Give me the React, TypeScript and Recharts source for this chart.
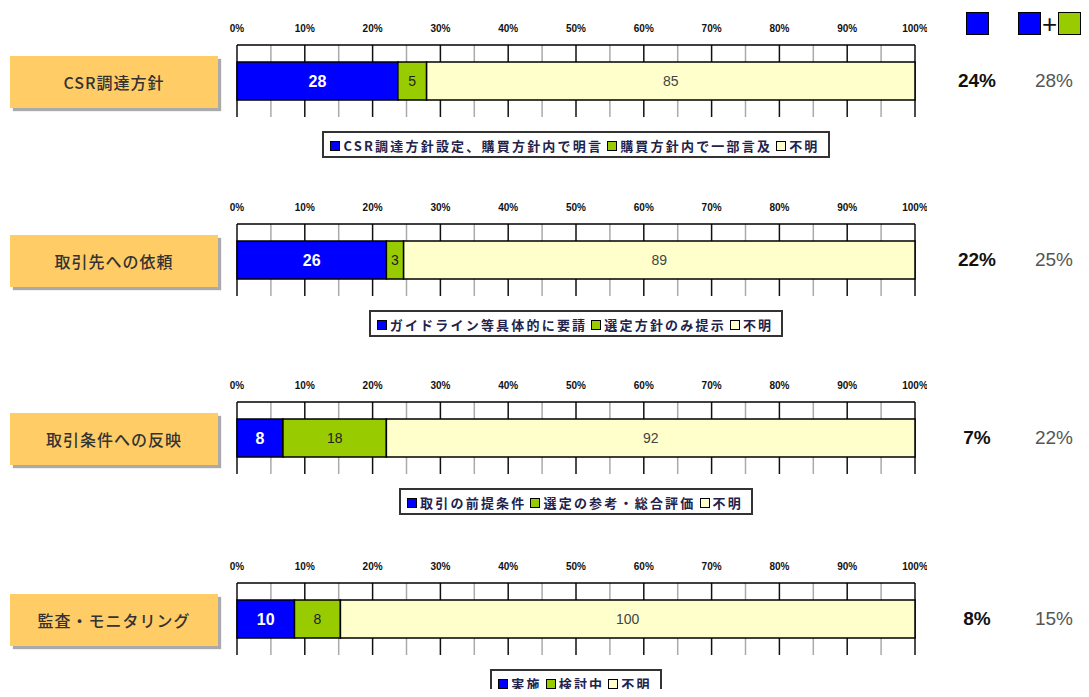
import React from "react";
import { Bar, BarChart, CartesianGrid, LabelList, Legend, XAxis, YAxis } from "recharts";

// survey items, one chart row each
const categories = ["CSR調達方針", "取引先への依頼", "取引条件への反映", "監査・モニタリング"];
const implemented = [28, 26, 8, 10];
const partial = [5, 3, 18, 8];
const unknown = [85, 89, 92, 100];

const implementedNames = ["CSR調達方針設定、購買方針内で明言", "ガイドライン等具体的に要請", "取引の前提条件", "実施"];
const partialNames = ["購買方針内で一部言及", "選定方針のみ提示", "選定の参考・総合評価", "検討中"];
const unknownName = "不明";

const majorTicks = [0, 0.1, 0.2, 0.3, 0.4, 0.5, 0.6, 0.7, 0.8, 0.9, 1];
const minorTicks = [0.05, 0.15, 0.25, 0.35, 0.45, 0.55, 0.65, 0.75, 0.85, 0.95];

const BLUE = "#0000FF";
const GREEN = "#99CC00";
const CREAM = "#FFFFCC";

const panelTops = [0, 179, 357, 538];

const JP = "'Noto Sans CJK JP', 'Noto Sans', sans-serif";
const SANS = "'Liberation Sans', Arial, sans-serif";

function Swatch({ color, size = 8 }: { color: string; size?: number }) {
  return (
    <span
      style={{
        display: "inline-block",
        width: size,
        height: size,
        background: color,
        border: "1px solid #000",
        verticalAlign: "middle",
      }}
    />
  );
}

// legend entries are listed in stack order, not Recharts' sorted payload
function PanelLegend({ i }: { i: number }) {
  const items = [
    { name: implementedNames[i], color: BLUE },
    { name: partialNames[i], color: GREEN },
    { name: unknownName, color: CREAM },
  ];
  return (
    <div style={{ textAlign: "center", lineHeight: 0 }}>
      <div
        style={{
          display: "inline-block",
          border: "2px solid #333",
          padding: "3px 4px 3px 6px",
          fontFamily: JP,
          fontSize: 13,
          fontWeight: 700,
          letterSpacing: 2.2,
          color: "#22224a",
          lineHeight: "15px",
          whiteSpace: "nowrap",
        }}
      >
        {items.map((p) => (
          <span key={p.name} style={{ marginRight: 4 }}>
            <Swatch color={p.color} />
            <span style={{ marginLeft: 3, verticalAlign: "middle" }}>{p.name}</span>
          </span>
        ))}
      </div>
    </div>
  );
}

function pct(n: number, total: number) {
  return `${Math.round((n / total) * 100)}%`;
}

// gray half-step lines between the 10% gridlines
const minorGrid = ({ offset }: any) => minorTicks.map((t) => offset.left + t * offset.width);

function Panel({ i }: { i: number }) {
  const top = panelTops[i];
  const data = [{ name: categories[i], a: implemented[i], b: partial[i], c: unknown[i] }];
  const total = implemented[i] + partial[i] + unknown[i];
  return (
    <>
      <div
        style={{
          position: "absolute",
          left: 10,
          top: top + 56,
          width: 208,
          height: 52,
          background: "#FFCC66",
          boxShadow: "3px 3px 1px #aaa",
          display: "flex",
          alignItems: "center",
          justifyContent: "center",
          fontFamily: JP,
          fontSize: 16,
          fontWeight: 500,
          letterSpacing: 1,
          color: "#333",
        }}
      >
        {categories[i]}
      </div>
      <div style={{ position: "absolute", left: 227, top: top + 5 }}>
        <BarChart
          width={700}
          height={153}
          data={data}
          layout="vertical"
          stackOffset="expand"
          margin={{ top: 10, right: 12, bottom: 0, left: 10 }}
        >
          <XAxis
            type="number"
            domain={[0, 1]}
            ticks={majorTicks}
            orientation="top"
            height={30}
            tickLine={false}
            tickMargin={7}
            axisLine={{ stroke: "#000", strokeWidth: 1.5 }}
            tickFormatter={(v: number) => `${Math.round(v * 100)}%`}
            tick={{ fontFamily: SANS, fontSize: 10, fontWeight: 700, fill: "#111" }}
          />
          <YAxis type="category" dataKey="name" hide />
          <CartesianGrid horizontal={false} stroke="#aaa" strokeWidth={1.5} verticalCoordinatesGenerator={minorGrid} />
          <CartesianGrid horizontal={false} stroke="#111" strokeWidth={1.5} />
          <Legend verticalAlign="bottom" content={<PanelLegend i={i} />} wrapperStyle={{ paddingTop: 14 }} />
          <Bar dataKey="a" name={implementedNames[i]} stackId="s" fill={BLUE} stroke="#000" strokeWidth={1.5} barSize={38} isAnimationActive={false}>
            <LabelList dataKey="a" position="center" fill="#fff" fontSize={16} fontWeight={700} fontFamily={SANS} />
          </Bar>
          <Bar dataKey="b" name={partialNames[i]} stackId="s" fill={GREEN} stroke="#000" strokeWidth={1.5} barSize={38} isAnimationActive={false}>
            <LabelList dataKey="b" position="center" fill="#222" fontSize={14} fontFamily={SANS} />
          </Bar>
          <Bar dataKey="c" name={unknownName} stackId="s" fill={CREAM} stroke="#000" strokeWidth={1.5} barSize={38} isAnimationActive={false}>
            <LabelList dataKey="c" position="center" fill="#444" fontSize={14} fontFamily={SANS} />
          </Bar>
        </BarChart>
      </div>
      <div
        style={{
          position: "absolute",
          left: 940,
          width: 74,
          top: top + 70,
          textAlign: "center",
          fontFamily: SANS,
          fontSize: 19,
          fontWeight: 700,
          color: "#111",
        }}
      >
        {pct(implemented[i], total)}
      </div>
      <div
        style={{
          position: "absolute",
          left: 1017,
          width: 74,
          top: top + 70,
          textAlign: "center",
          fontFamily: SANS,
          fontSize: 19,
          color: "#555",
        }}
      >
        {pct(implemented[i] + partial[i], total)}
      </div>
    </>
  );
}

export default function App() {
  return (
    <div style={{ position: "relative", width: 1089, height: 697, margin: -8, background: "#fff", overflow: "hidden" }}>
      <div style={{ position: "absolute", left: 966, top: 12, display: "flex", alignItems: "center" }}>
        <Swatch color={BLUE} size={21} />
      </div>
      <div style={{ position: "absolute", left: 1018, top: 12, display: "flex", alignItems: "center", fontFamily: SANS }}>
        <Swatch color={BLUE} size={21} />
        <span style={{ fontSize: 26, lineHeight: "22px", margin: "0 1px", color: "#111" }}>+</span>
        <Swatch color={GREEN} size={21} />
      </div>
      {categories.map((_, i) => (
        <Panel key={i} i={i} />
      ))}
    </div>
  );
}
